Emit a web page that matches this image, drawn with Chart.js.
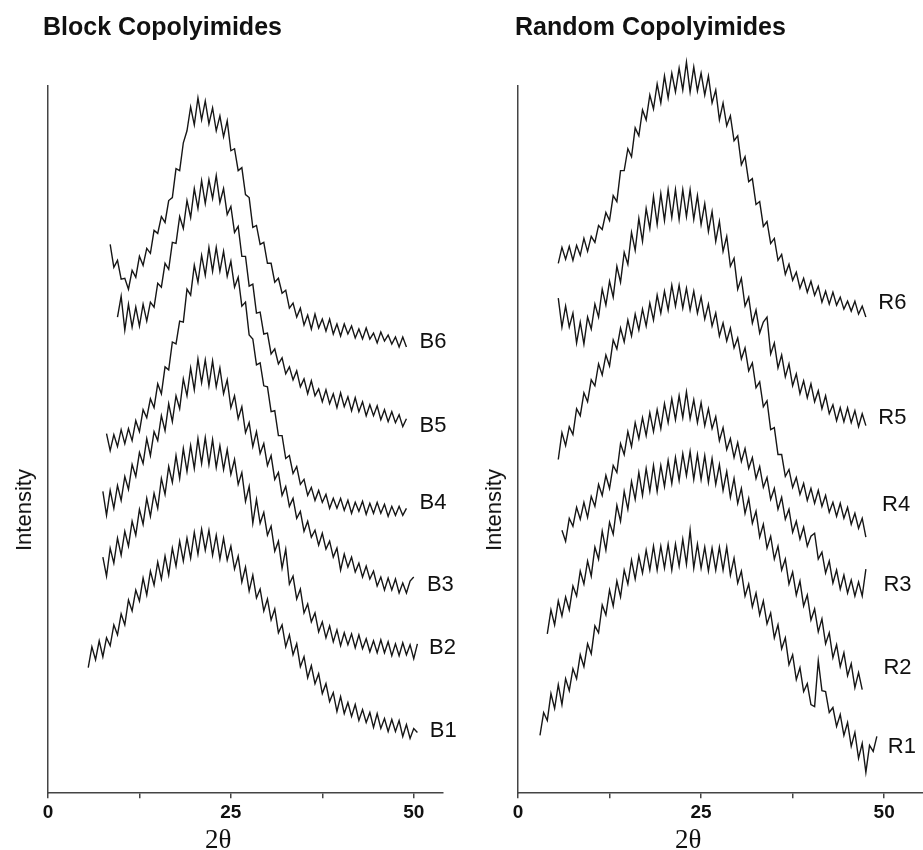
<!DOCTYPE html>
<html>
<head>
<meta charset="utf-8">
<title>XRD patterns of copolyimides</title>
<script src="https://cdn.jsdelivr.net/npm/chart.js@4.4.0/dist/chart.umd.min.js"></script>
<style>
  body { margin: 0; background: #fff; }
  #page { position: relative; width: 923px; height: 850px; overflow: hidden; font-family: "Liberation Sans", Arial, sans-serif; color: #111; }
  .panel { position: absolute; top: 0; height: 850px; }
  .title { position: absolute; top: 14px; font-weight: bold; font-size: 25px; line-height: 1; white-space: nowrap; }
  .ylab { position: absolute; top: 510px; font-size: 22px; line-height: 1; white-space: nowrap; transform: translate(-50%, -50%) rotate(-90deg); }
  .xlab { position: absolute; top: 826px; font-family: "Liberation Serif", "Times New Roman", serif; font-size: 27px; line-height: 1; }
</style>
</head>
<body>
<div id="page">
  <div class="panel" style="left:0;width:470px"><canvas id="blockChart" width="470" height="850"></canvas></div>
  <div class="panel" style="left:470px;width:453px"><canvas id="randomChart" width="453" height="850"></canvas></div>
  <div class="title" style="left:43px">Block Copolyimides</div>
  <div class="title" style="left:515px">Random Copolyimides</div>
  <div class="ylab" style="left:24px">Intensity</div>
  <div class="ylab" style="left:494px">Intensity</div>
  <div class="xlab" style="left:205px">2θ</div>
  <div class="xlab" style="left:675px">2θ</div>
</div>

<script>
// 2-theta sampling grid (degrees)
const twoTheta = [3, 3.5, 4, 4.5, 5, 5.5, 6, 6.5, 7, 7.5, 8, 8.5, 9, 9.5, 10, 10.5, 11, 11.5, 12, 12.5,
  13, 13.5, 14, 14.5, 15, 15.5, 16, 16.5, 17, 17.5, 18, 18.5, 19, 19.5, 20, 20.5, 21, 21.5, 22, 22.5,
  23, 23.5, 24, 24.5, 25, 25.5, 26, 26.5, 27, 27.5, 28, 28.5, 29, 29.5, 30, 30.5, 31, 31.5, 32, 32.5,
  33, 33.5, 34, 34.5, 35, 35.5, 36, 36.5, 37, 37.5, 38, 38.5, 39, 39.5, 40, 40.5, 41, 41.5, 42, 42.5,
  43, 43.5, 44, 44.5, 45, 45.5, 46, 46.5, 47, 47.5, 48, 48.5, 49, 49.5, 50, 50.5];

const xTickValues = [0, 12.5, 25, 37.5, 50];
const xTickLabels = ['0', '', '25', '', '50'];

// Block copolyimides (stacked, arbitrary intensity units)
const blockNames = ['B6', 'B5', 'B4', 'B3', 'B2', 'B1'];
const blockStart = [8.5, 9.5, 8, 7.5, 7.5, 5.5];
const b6 = [551, 528, 535, 516, 517, 506, 525, 518, 539, 530, 547, 542, 565, 562, 579, 573, 595, 598, 627, 625,
  653, 665, 689, 671, 698, 676, 695, 672, 688, 665, 680, 659, 675, 645, 647, 625, 628, 601, 598, 568,
  570, 551, 553, 532, 532, 513, 517, 502, 505, 487, 492, 478, 487, 470, 480, 466, 481, 467, 476, 464,
  476, 461, 471, 459, 471, 461, 469, 457, 466, 456, 467, 456, 462, 452, 463, 454, 460, 451, 458, 448, 458, 448];
const b5 = [478, 499, 465, 491, 468, 488, 469, 491, 474, 493, 488, 512, 508, 532, 526, 553, 552, 579, 567, 595,
  578, 607, 587, 615, 592, 616, 597, 620, 593, 607, 581, 589, 563, 569, 539, 539, 509, 511, 482, 483,
  461, 462, 441, 446, 431, 437, 421, 428, 415, 424, 408, 416, 401, 414, 399, 406, 393, 405, 391, 401,
  387, 402, 388, 398, 384, 397, 383, 393, 379, 390, 379, 389, 375, 385, 373, 383, 372, 380, 368, 376];
const b4 = [361, 344, 360, 348, 365, 351, 366, 354, 374, 363, 385, 377, 396, 387, 411, 401, 428, 425, 453, 451,
  474, 473, 506, 500, 530, 513, 540, 520, 548, 524, 548, 524, 544, 519, 534, 508, 518, 489, 493, 460,
  456, 430, 432, 409, 408, 383, 384, 359, 359, 336, 339, 321, 328, 310, 315, 299, 307, 294, 304, 292,
  300, 286, 296, 286, 296, 284, 294, 281, 292, 283, 293, 280, 291, 281, 292, 281, 290, 278, 288, 279, 288, 279, 286];
const b3 = [303, 279, 304, 286, 309, 294, 318, 305, 330, 318, 342, 331, 356, 339, 363, 354, 379, 364, 391, 373,
  399, 386, 416, 399, 427, 405, 436, 412, 435, 409, 434, 408, 427, 401, 415, 387, 399, 376, 388, 362,
  372, 348, 363, 341, 351, 329, 339, 315, 322, 299, 308, 288, 296, 276, 283, 263, 273, 257, 264, 249,
  261, 245, 253, 237, 246, 224, 240, 227, 237, 222, 231, 217, 228, 215, 223, 208, 217, 204, 216, 204,
  215, 201, 211, 201, 213, 217];
const b2 = [237, 218, 246, 231, 256, 239, 263, 248, 273, 259, 285, 270, 296, 278, 301, 286, 316, 300, 328, 312,
  339, 316, 346, 323, 349, 326, 356, 331, 357, 330, 355, 327, 349, 325, 345, 320, 335, 310, 322, 293,
  308, 271, 295, 271, 282, 259, 268, 243, 253, 226, 245, 210, 218, 195, 205, 181, 190, 172, 181, 162,
  172, 156, 168, 152, 164, 148, 161, 149, 160, 146, 159, 145, 155, 142, 153, 141, 154, 141, 152, 138,
  150, 138, 151, 139, 149, 135, 150];
const b1 = [126, 147, 134, 153, 137, 156, 148, 169, 159, 180, 169, 194, 183, 204, 193, 216, 199, 223, 209, 232,
  215, 238, 219, 246, 228, 253, 233, 256, 236, 262, 240, 265, 244, 264, 239, 259, 235, 256, 234, 248,
  225, 238, 212, 227, 203, 219, 196, 205, 183, 195, 174, 185, 161, 169, 147, 159, 139, 150, 127, 137,
  116, 128, 110, 120, 100, 110, 92, 101, 82, 97, 80, 91, 77, 89, 73, 84, 71, 81, 66, 80,
  65, 75, 62, 74, 62, 73, 57, 69, 55, 65, 61];

// Random copolyimides
const randomNames = ['R6', 'R5', 'R4', 'R3', 'R2', 'R1'];
const randomStart = [5.5, 5.5, 5.5, 6, 4, 3];
const r6 = [532, 548, 536, 549, 535, 550, 540, 557, 544, 559, 553, 570, 566, 583, 575, 600, 594, 625, 625, 647,
  639, 668, 660, 686, 676, 701, 687, 712, 693, 720, 698, 723, 704, 728, 706, 734, 704, 729, 705, 723,
  701, 720, 693, 706, 676, 693, 670, 680, 655, 660, 631, 639, 614, 617, 591, 594, 569, 574, 552, 557,
  535, 541, 521, 531, 515, 523, 507, 517, 503, 514, 500, 509, 493, 504, 491, 503, 490, 498, 486, 494,
  484, 494, 481, 489, 478];
const r5 = [497, 468, 489, 468, 482, 452, 473, 451, 478, 466, 491, 478, 506, 490, 514, 498, 529, 513, 543, 531,
  563, 545, 577, 554, 587, 567, 599, 571, 602, 575, 606, 578, 606, 576, 606, 579, 606, 576, 600, 571,
  592, 564, 584, 554, 574, 544, 559, 529, 537, 506, 517, 489, 498, 472, 485, 462, 473, 478, 441, 452,
  427, 440, 418, 431, 409, 421, 401, 414, 397, 411, 393, 404, 386, 399, 381, 390, 374, 387, 373, 387,
  372, 384, 368, 381, 369];
const r4 = [335, 362, 349, 368, 360, 386, 379, 402, 393, 415, 409, 431, 420, 440, 429, 455, 446, 467, 453, 475,
  459, 481, 465, 486, 469, 492, 475, 500, 482, 504, 485, 510, 489, 510, 487, 507, 485, 504, 482, 498,
  476, 491, 469, 482, 459, 472, 454, 467, 447, 457, 436, 447, 424, 432, 407, 413, 388, 394, 365, 367,
  340, 340, 318, 325, 307, 317, 300, 311, 294, 306, 291, 304, 288, 299, 282, 292, 278, 291, 276, 287,
  270, 281, 266, 276, 257];
const r3 = [264, 253, 276, 268, 287, 275, 292, 277, 298, 288, 310, 299, 319, 306, 329, 322, 351, 340, 363, 348,
  372, 356, 377, 359, 382, 363, 385, 366, 391, 372, 396, 375, 399, 377, 403, 376, 395, 372, 392, 369,
  386, 366, 378, 354, 367, 345, 356, 337, 352, 333, 346, 326, 337, 316, 328, 307, 317, 295, 306, 285,
  297, 275, 285, 262, 273, 255, 267, 248, 258, 261, 235, 242, 221, 233, 211, 224, 205, 219, 201, 214,
  198, 212, 198, 225];
const r2 = [160, 184, 169, 193, 178, 197, 184, 208, 198, 223, 210, 233, 218, 247, 235, 263, 244, 272, 260, 289,
  273, 303, 285, 313, 295, 322, 299, 326, 303, 329, 303, 329, 308, 334, 311, 337, 314, 341, 319, 343,
  315, 340, 315, 339, 312, 336, 310, 330, 304, 323, 297, 316, 291, 306, 281, 296, 271, 283, 257, 270,
  246, 258, 235, 248, 224, 235, 210, 222, 199, 213, 188, 199, 174, 185, 162, 175, 150, 161, 136, 149,
  127, 141, 118, 130, 106, 121, 104];
const r1 = [58, 81, 73, 100, 85, 109, 89, 115, 103, 125, 115, 139, 127, 150, 140, 168, 161, 189, 179, 204,
  188, 213, 197, 224, 210, 234, 215, 238, 221, 244, 224, 248, 224, 248, 226, 250, 224, 250, 228, 255,
  230, 264, 226, 250, 226, 247, 223, 246, 224, 247, 224, 247, 219, 236, 211, 223, 198, 210, 187, 201,
  179, 193, 170, 181, 156, 169, 145, 156, 129, 139, 114, 126, 102, 110, 89, 87, 133, 103, 102, 81,
  86, 67, 79, 58, 71, 47, 61, 35, 50, 21, 48, 42, 57];

// where the curve names sit, in axis units [2theta, intensity]
const blockLabelPos = [[50.8, 453], [50.8, 369], [50.8, 291], [51.8, 209], [52.1, 146], [52.2, 63]];
const randomLabelPos = [[49.2, 492], [49.2, 377], [49.7, 289], [49.9, 209], [49.9, 126], [50.5, 46]];

function toPoints(start, values) {
  const first = twoTheta.indexOf(start);
  return values.map((v, i) => ({ x: twoTheta[first + i], y: v }));
}

// draws the curve names next to the right end of each pattern
function labelPlugin(positions) {
  return {
    id: 'curveLabels',
    afterDatasetsDraw(chart) {
      const ctx = chart.ctx;
      const xs = chart.scales.x;
      const ys = chart.scales.y;
      ctx.save();
      ctx.font = '22px "Liberation Sans", Arial, sans-serif';
      ctx.fillStyle = '#111';
      ctx.textBaseline = 'middle';
      chart.data.datasets.forEach((ds, i) => {
        const p = positions[i];
        ctx.fillText(ds.label, xs.getPixelForValue(p[0]), ys.getPixelForValue(p[1]));
      });
      ctx.restore();
    }
  };
}

function renderPanel(canvasId, names, starts, seriesList, labelPos, xMax, padRight) {
  const ctx = document.getElementById(canvasId).getContext('2d');

  const datasets = seriesList.map((values, i) => ({
    label: names[i],
    data: toPoints(starts[i], values),
    borderColor: '#161616',
    borderWidth: 1.4,
    pointRadius: 0,
    tension: 0,
    fill: false,
    clip: false
  }));

  new Chart(ctx, {
    type: 'line',
    data: { datasets: datasets },
    options: {
      responsive: false,
      animation: false,
      layout: {
        padding: { left: 48, right: padRight, top: 86, bottom: 23 }
      },
      scales: {
        x: {
          type: 'linear',
          min: 0,
          max: xMax,
          afterBuildTicks: axis => {
            axis.ticks = xTickValues.map(v => ({ value: v }));
          },
          ticks: {
            callback: (value, index) => xTickLabels[index],
            font: { family: '"Liberation Sans", Arial, sans-serif', size: 19, weight: 'bold' },
            color: '#111',
            padding: 3,
            maxRotation: 0,
            autoSkip: false
          },
          grid: {
            display: true,
            drawOnChartArea: false,
            drawTicks: true,
            tickLength: 5,
            color: '#444',
            lineWidth: 1.5
          },
          border: { display: true, color: '#444', width: 1.5 }
        },
        y: {
          min: 0,
          max: 710,
          ticks: { display: false },
          grid: { display: false, drawTicks: false },
          border: { display: true, color: '#444', width: 1.5 }
        }
      },
      plugins: {
        legend: { display: false },
        tooltip: { enabled: false }
      }
    },
    plugins: [labelPlugin(labelPos)]
  });
}

renderPanel('blockChart', blockNames, blockStart, [b6, b5, b4, b3, b2, b1], blockLabelPos, 54, 27);
renderPanel('randomChart', randomNames, randomStart, [r6, r5, r4, r3, r2, r1], randomLabelPos, 55.3, 0);
</script>
</body>
</html>
